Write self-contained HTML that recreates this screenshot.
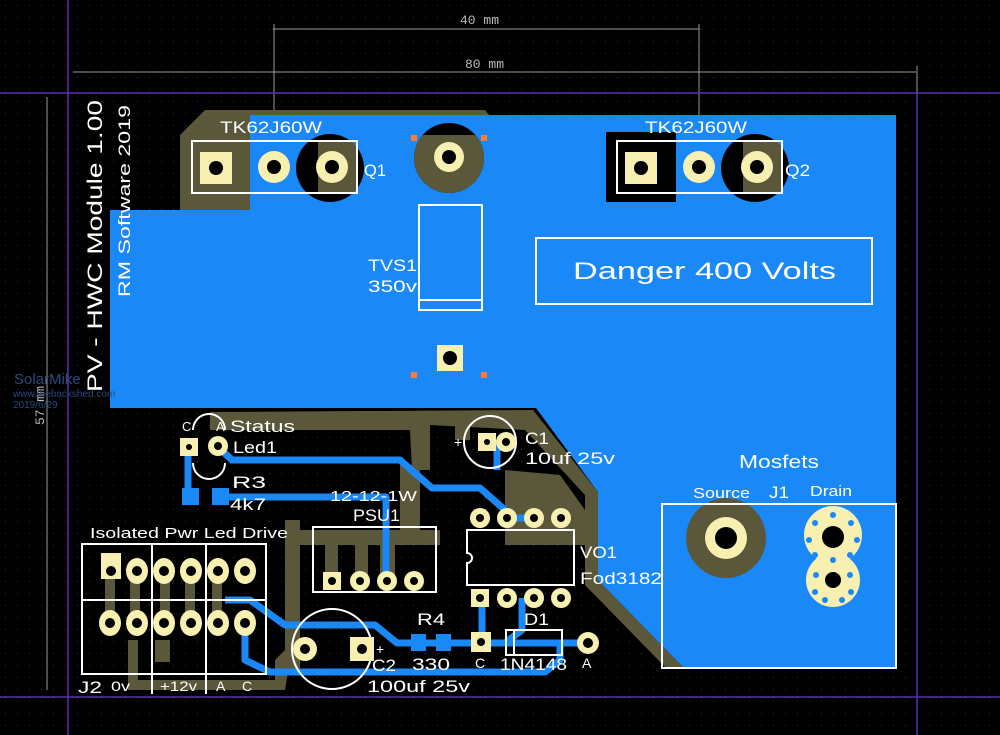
<!DOCTYPE html>
<html><head><meta charset="utf-8"><style>
html,body{margin:0;padding:0;background:#000;}
svg{display:block;}
text{font-family:"Liberation Sans",sans-serif;fill:#fff;}
</style></head><body>
<svg width="1000" height="735" viewBox="0 0 1000 735" xmlns="http://www.w3.org/2000/svg">
<defs>
<pattern id="dots" width="12" height="12" patternUnits="userSpaceOnUse"><rect x="5" y="5" width="1" height="1" fill="#3a3a3a"/></pattern>
<clipPath id="c1"><rect x="318" y="141" width="39" height="52"/></clipPath>
<clipPath id="c2"><rect x="743" y="141" width="39" height="52"/></clipPath>
<clipPath id="c3"><rect x="400" y="135" width="100" height="100"/></clipPath>
</defs>
<rect width="1000" height="735" fill="#000"/>
<rect width="1000" height="735" fill="url(#dots)"/>

<g stroke="#9a9a9a" stroke-width="1" fill="none">
<line x1="273" y1="29" x2="699" y2="29"/>
<line x1="274" y1="24" x2="274" y2="165"/>
<line x1="699" y1="24" x2="699" y2="165"/>
<line x1="73" y1="72" x2="916" y2="72"/>
<line x1="917" y1="66" x2="917" y2="93"/>
<line x1="47" y1="97" x2="47" y2="690"/>
<line x1="40" y1="93" x2="68" y2="93"/>
</g>
<text x="460" y="24" font-size="13" style="fill:#bbb;font-family:'Liberation Mono',monospace">40 mm</text>
<text x="465" y="68" font-size="13" style="fill:#bbb;font-family:'Liberation Mono',monospace">80 mm</text>
<text transform="translate(44,425) rotate(-90)" font-size="13" style="fill:#bbb;font-family:'Liberation Mono',monospace">57 mm</text>

<g stroke="#5a2fb0" stroke-width="1.5" fill="none">
<line x1="0" y1="93" x2="1000" y2="93"/>
<line x1="0" y1="697" x2="1000" y2="697"/>
<line x1="68" y1="0" x2="68" y2="735"/>
<line x1="917" y1="93" x2="917" y2="735"/>
</g>

<g fill="#5b573a">
<path d="M180 210 L180 135 L205 110 L485 110 L490 116 L250 116 L250 210 Z"/>
<path d="M210 412 L533 410 L598 492 L598 580 L683 667 L665 667 L585 585 L585 495 L525 430 L430 425 L430 470 L412 470 L410 430 L210 430 Z"/>
<path d="M455 415 L470 415 L470 440 L455 440Z"/>
<path d="M505 470 L560 475 L585 510 L585 545 L505 545Z"/>
<path d="M400 465 L420 465 L420 540 L400 540Z"/>
<path d="M285 520 L300 520 L300 670 L285 670Z"/>
<path d="M295 530 L440 530 L440 545 L295 545Z"/>
<path d="M325 540 L338 540 L338 580 L325 580Z"/>
<path d="M355 540 L368 540 L368 580 L355 580Z"/>
<path d="M380 545 L395 545 L395 580 L380 580Z"/>
<path d="M128 640 L138 640 L138 680 L275 680 L275 660 L285 650 L290 660 L285 690 L128 690 Z"/>
<path d="M105 575 L115 575 L115 620 L105 620Z M130 575 L140 575 L140 620 L130 620Z M160 575 L170 575 L170 620 L160 620Z M185 575 L195 575 L195 620 L185 620Z M212 575 L222 575 L222 620 L212 620Z"/>
<path d="M155 640 L170 640 L170 662 L155 662Z"/>
</g>

<path fill="#1b88f8" d="M250 115 L896 115 L896 667 L683 667 L598 580 L598 492 L536 408 L110 408 L110 210 L250 210 Z"/>
<rect x="606" y="132" width="70" height="70" fill="#000"/>
<!-- Q1 / Q2 heat rings -->
<circle cx="330" cy="168" r="34" fill="#000"/>
<circle cx="330" cy="168" r="34" fill="#5b573a" clip-path="url(#c1)"/>
<circle cx="755" cy="168" r="34" fill="#000"/>
<circle cx="755" cy="168" r="34" fill="#5b573a" clip-path="url(#c2)"/>
<circle cx="449" cy="158" r="35" fill="#000"/>
<circle cx="449" cy="158" r="35" fill="#5b573a" clip-path="url(#c3)"/>
<circle cx="726" cy="538" r="40" fill="#5b573a"/>

<g stroke="#1b88f8" stroke-width="7" fill="none" stroke-linejoin="round">
<polyline points="218,447 232,460 400,460 432,488 480,488 505,510"/>
<polyline points="188,447 188,497"/>
<polyline points="218,497 330,497 386,497 386,580"/>
<polyline points="497,440 497,470"/>
<polyline points="498,518 535,518"/>
<polyline points="225,600 250,600 285,625 375,625 397,643 435,643"/>
<polyline points="245,620 245,660 270,672 510,672 545,672 560,660 560,643"/>
<polyline points="435,643 505,643 522,630 522,598"/>
<polyline points="505,643 588,643"/>
<polyline points="482,600 482,643"/>
</g>
<rect x="182" y="488" width="17" height="17" fill="#1b88f8"/>
<rect x="212" y="488" width="17" height="17" fill="#1b88f8"/>
<rect x="411" y="634" width="15" height="17" fill="#1b88f8"/>
<rect x="436" y="634" width="15" height="17" fill="#1b88f8"/>

<g stroke="#fff" stroke-width="2" fill="none">
<rect x="192" y="141" width="165" height="52"/>
<rect x="617" y="141" width="165" height="52"/>
<rect x="419" y="205" width="63" height="105"/>
<line x1="419" y1="300" x2="482" y2="300"/>
<rect x="536" y="238" width="336" height="66"/>
<rect x="313" y="527" width="123" height="65"/>
<path d="M467 530 L574 530 L574 585 L467 585 L467 563 A5 5 0 0 0 467 553 Z"/>
<rect x="662" y="504" width="234" height="164"/>
<rect x="82" y="544" width="184" height="130"/>
<line x1="82" y1="600" x2="266" y2="600"/>
<line x1="152" y1="544" x2="152" y2="694"/>
<line x1="206" y1="544" x2="206" y2="694"/>
<rect x="506" y="630" width="56" height="25"/>
<line x1="514" y1="630" x2="514" y2="655"/>
<circle cx="332" cy="649" r="40"/>
<circle cx="490" cy="442" r="26"/>
<path d="M193 430 A16 16 0 0 1 225 430 M193 463 A16 16 0 0 0 225 463" />
</g>

<g fill="#f7f0b0">
<rect x="200" y="152" width="32" height="32"/>
<circle cx="274" cy="167" r="16"/><circle cx="332" cy="167" r="16"/>
<rect x="625" y="152" width="32" height="32"/>
<circle cx="699" cy="167" r="16"/><circle cx="757" cy="167" r="16"/>
<circle cx="449" cy="157" r="15"/>
<rect x="437" y="345" width="26" height="26"/>
<rect x="180" y="438" width="18" height="18"/><circle cx="218" cy="446" r="10"/>
<rect x="478" y="433" width="18" height="18"/><circle cx="506" cy="442" r="10"/>
<circle cx="480" cy="518" r="10"/><circle cx="507" cy="518" r="10"/><circle cx="534" cy="518" r="10"/><circle cx="561" cy="518" r="10"/>
<rect x="471" y="589" width="18" height="18"/><circle cx="507" cy="598" r="10"/><circle cx="534" cy="598" r="10"/><circle cx="561" cy="598" r="10"/>
<rect x="323" y="572" width="18" height="18"/><circle cx="360" cy="581" r="10"/><circle cx="387" cy="581" r="10"/><circle cx="414" cy="581" r="10"/>
<circle cx="305" cy="649" r="12"/><rect x="350" y="637" width="24" height="24"/>
<rect x="471" y="632" width="20" height="20"/><circle cx="588" cy="643" r="11"/>
<rect x="101" y="553" width="20" height="26"/>
<ellipse cx="137" cy="571" rx="11" ry="13"/><ellipse cx="164" cy="571" rx="11" ry="13"/><ellipse cx="191" cy="571" rx="11" ry="13"/><ellipse cx="218" cy="571" rx="11" ry="13"/><ellipse cx="245" cy="571" rx="11" ry="13"/>
<ellipse cx="110" cy="623" rx="11" ry="13"/><ellipse cx="137" cy="623" rx="11" ry="13"/><ellipse cx="164" cy="623" rx="11" ry="13"/><ellipse cx="191" cy="623" rx="11" ry="13"/><ellipse cx="218" cy="623" rx="11" ry="13"/><ellipse cx="245" cy="623" rx="11" ry="13"/>
<circle cx="726" cy="538" r="21"/>
<circle cx="833" cy="535" r="29"/><circle cx="833" cy="580" r="27"/>
</g>
<g fill="#000">
<circle cx="216" cy="168" r="7"/><circle cx="274" cy="167" r="7"/><circle cx="332" cy="167" r="7"/>
<circle cx="641" cy="168" r="7"/><circle cx="699" cy="167" r="7"/><circle cx="757" cy="167" r="7"/>
<circle cx="449" cy="157" r="7"/><circle cx="450" cy="358" r="7"/>
<circle cx="189" cy="447" r="3"/><circle cx="218" cy="446" r="4"/><circle cx="487" cy="442" r="3"/><circle cx="506" cy="442" r="4"/>
<circle cx="480" cy="518" r="4"/><circle cx="507" cy="518" r="4"/><circle cx="534" cy="518" r="4"/><circle cx="561" cy="518" r="4"/>
<circle cx="480" cy="598" r="4"/><circle cx="507" cy="598" r="4"/><circle cx="534" cy="598" r="4"/><circle cx="561" cy="598" r="4"/>
<circle cx="332" cy="581" r="4"/><circle cx="360" cy="581" r="4"/><circle cx="387" cy="581" r="4"/><circle cx="414" cy="581" r="4"/>
<circle cx="305" cy="649" r="5"/><circle cx="362" cy="649" r="5"/><circle cx="481" cy="642" r="4"/><circle cx="588" cy="643" r="5"/>
<circle cx="111" cy="571" r="5"/><circle cx="137" cy="571" r="5"/><circle cx="164" cy="571" r="5"/><circle cx="191" cy="571" r="5"/><circle cx="218" cy="571" r="5"/><circle cx="245" cy="571" r="5"/>
<circle cx="110" cy="623" r="5"/><circle cx="137" cy="623" r="5"/><circle cx="164" cy="623" r="5"/><circle cx="191" cy="623" r="5"/><circle cx="218" cy="623" r="5"/><circle cx="245" cy="623" r="5"/>
<circle cx="726" cy="538" r="11"/><circle cx="833" cy="537" r="11"/><circle cx="833" cy="580" r="8"/>
</g>
<g fill="#1b88f8">
<circle cx="815" cy="523" r="3"/><circle cx="833" cy="515" r="3"/><circle cx="851" cy="523" r="3"/><circle cx="857" cy="540" r="3"/><circle cx="850" cy="555" r="3"/><circle cx="815" cy="555" r="3"/><circle cx="809" cy="540" r="3"/><circle cx="833" cy="560" r="3"/>
<circle cx="816" cy="575" r="3"/><circle cx="850" cy="575" r="3"/><circle cx="815" cy="592" r="3"/><circle cx="851" cy="592" r="3"/><circle cx="825" cy="600" r="3"/><circle cx="842" cy="600" r="3"/>
</g>
<g fill="#ff7a33"><rect x="411" y="135" width="6" height="6"/><rect x="481" y="135" width="6" height="6"/><rect x="411" y="372" width="6" height="6"/><rect x="481" y="372" width="6" height="6"/></g>

<g lengthAdjust="spacingAndGlyphs">
<text x="220" y="133" font-size="17" textLength="102" lengthAdjust="spacingAndGlyphs">TK62J60W</text>
<text x="645" y="133" font-size="17" textLength="102" lengthAdjust="spacingAndGlyphs">TK62J60W</text>
<text x="364" y="176" font-size="17" textLength="22" lengthAdjust="spacingAndGlyphs">Q1</text>
<text x="785" y="176" font-size="17" textLength="25" lengthAdjust="spacingAndGlyphs">Q2</text>
<text x="368" y="271" font-size="17" textLength="49" lengthAdjust="spacingAndGlyphs">TVS1</text>
<text x="368" y="292" font-size="17" textLength="49" lengthAdjust="spacingAndGlyphs">350v</text>
<text x="573" y="279" font-size="24" textLength="263" lengthAdjust="spacingAndGlyphs">Danger  400  Volts</text>
<text transform="translate(102,392) rotate(-90)" font-size="21" textLength="292" lengthAdjust="spacingAndGlyphs">PV - HWC Module 1.00</text>
<text transform="translate(130,297) rotate(-90)" font-size="17" textLength="192" lengthAdjust="spacingAndGlyphs">RM Software 2019</text>
<text x="182" y="431" font-size="13">C</text><text x="216" y="431" font-size="13">A</text>
<text x="230" y="432" font-size="17" textLength="65" lengthAdjust="spacingAndGlyphs">Status</text>
<text x="233" y="453" font-size="17" textLength="44" lengthAdjust="spacingAndGlyphs">Led1</text>
<text x="232" y="488" font-size="17" textLength="34" lengthAdjust="spacingAndGlyphs">R3</text>
<text x="230" y="510" font-size="17" textLength="36" lengthAdjust="spacingAndGlyphs">4k7</text>
<text x="330" y="501" font-size="15" textLength="87" lengthAdjust="spacingAndGlyphs">12-12-1W</text>
<text x="353" y="521" font-size="17" textLength="47" lengthAdjust="spacingAndGlyphs">PSU1</text>
<text x="525" y="444" font-size="17" textLength="24" lengthAdjust="spacingAndGlyphs">C1</text>
<text x="525" y="464" font-size="17" textLength="90" lengthAdjust="spacingAndGlyphs">10uf  25v</text>
<text x="580" y="558" font-size="17" textLength="37" lengthAdjust="spacingAndGlyphs">VO1</text>
<text x="580" y="584" font-size="17" textLength="82" lengthAdjust="spacingAndGlyphs">Fod3182</text>
<text x="739" y="468" font-size="18" textLength="80" lengthAdjust="spacingAndGlyphs">Mosfets</text>
<text x="693" y="498" font-size="15" textLength="57" lengthAdjust="spacingAndGlyphs">Source</text>
<text x="769" y="498" font-size="17" textLength="20" lengthAdjust="spacingAndGlyphs">J1</text>
<text x="810" y="496" font-size="15" textLength="42" lengthAdjust="spacingAndGlyphs">Drain</text>
<text x="90" y="538" font-size="15" textLength="198" lengthAdjust="spacingAndGlyphs">Isolated  Pwr  Led  Drive</text>
<text x="417" y="625" font-size="17" textLength="28" lengthAdjust="spacingAndGlyphs">R4</text>
<text x="524" y="625" font-size="17" textLength="25" lengthAdjust="spacingAndGlyphs">D1</text>
<text x="372" y="671" font-size="17" textLength="24" lengthAdjust="spacingAndGlyphs">C2</text>
<text x="412" y="670" font-size="17" textLength="38" lengthAdjust="spacingAndGlyphs">330</text>
<text x="475" y="668" font-size="14">C</text>
<text x="500" y="670" font-size="17" textLength="67" lengthAdjust="spacingAndGlyphs">1N4148</text>
<text x="582" y="668" font-size="14">A</text>
<text x="367" y="692" font-size="17" textLength="103" lengthAdjust="spacingAndGlyphs">100uf  25v</text>
<text x="78" y="693" font-size="17" textLength="24" lengthAdjust="spacingAndGlyphs">J2</text>
<text x="111" y="691" font-size="14" textLength="19" lengthAdjust="spacingAndGlyphs">0v</text>
<text x="160" y="691" font-size="14" textLength="37" lengthAdjust="spacingAndGlyphs">+12v</text>
<text x="216" y="691" font-size="14">A</text>
<text x="242" y="691" font-size="14">C</text>
<text x="376" y="654" font-size="14">+</text>
<text x="454" y="447" font-size="14">+</text>
</g>
<text x="14" y="384" font-size="15" style="fill:#2a4a7a">SolarMike</text>
<text x="13" y="397" font-size="10" style="fill:#2a4a7a">www.thebackshed.com</text>
<text x="13" y="408" font-size="10" style="fill:#2a4a7a">2019/6/29</text>
</svg>
</body></html>
